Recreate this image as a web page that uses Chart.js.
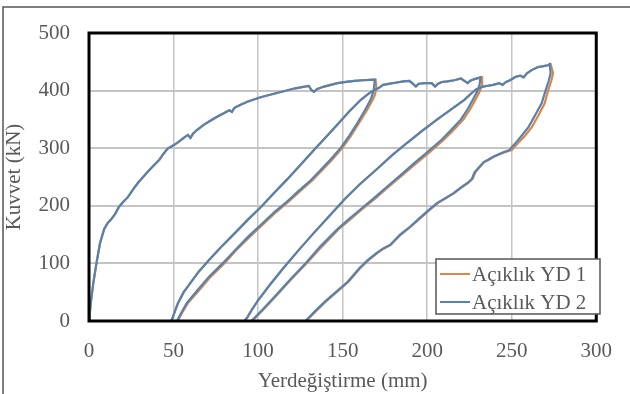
<!DOCTYPE html>
<html>
<head>
<meta charset="utf-8">
<script src="https://cdn.jsdelivr.net/npm/chart.js@4.4.1/dist/chart.umd.min.js"></script>
<style>
  html, body { margin: 0; padding: 0; background: #fff; }
  #wrap { width: 630px; height: 394px; position: relative; }
</style>
</head>
<body>
<div id="wrap"><canvas id="loadChart"></canvas></div>
<script>
// tick labels / axis ranges
const xTicks = [0, 50, 100, 150, 200, 250, 300];
const yTicks = [0, 100, 200, 300, 400, 500];
const seriesNames = ["Açıklık YD 1", "Açıklık YD 2"];

// envelope parts (both specimens sit on top of each other here)
const envelope1 = [[0,0],[0.5,15],[1.2,35],[2.5,65],[4.4,100],[6.5,135],[9,160],[11,170],[13,176],[15.5,186],[17.7,198],[20,206],[23,215],[26,228],[29,240],[32,250],[35,260],[38,269],[41.6,280],[44,290],[46.4,299],[50,305],[53,311],[56,318],[58.5,323],[60,318],[61.5,325],[64,332],[68,341],[72,348],[76,355],[80,361],[83,366],[84.5,363],[86,370],[90,376],[94,381],[98,385],[102,389],[106,392],[110,395],[114,398],[118,401],[122,404],[126,406],[130,408],[131.5,401],[133,398],[135,403],[139,407],[143,410],[147,413],[152,415],[157,417],[162,418],[166,418.5],[169,419]];
const envelope2 = [[171,404],[174,410],[178,412],[182,414],[186,416],[189.5,417],[191.5,412],[193.3,407],[195,412],[199,413],[202.7,413],[204.7,407],[206.5,412],[208.5,415],[212,416],[216,418],[220,421],[222,417],[224,413],[225.5,417],[228,420],[231.5,423]];
const envelope3 = [[232,406],[235,408],[239,410],[242.7,413],[244.5,410],[246.7,415],[249,418],[252.4,424],[255,426],[257,423],[259,430],[262,436],[265.7,441],[268,442],[271.4,444],[272.5,446]];

// reloading branches
const reload1 = [[48.7,0],[50.2,12],[52.6,31],[56,50],[59.7,65],[65,86],[71,106],[78,128],[86.4,153],[94,176],[101.7,198],[109,221],[116.9,245],[125,271],[134,300],[141,322],[147.5,343],[154,364],[160.8,384],[165,394],[168,400],[171,404]];
const reload2 = [[92,0],[94,8],[96,18],[100,36],[107,63],[115,92],[124,123],[133,153],[142,182],[151,211],[160,237],[170,263],[179,287],[188,309],[197,330],[206,350],[214,367],[222,384],[226,395],[229,402],[232,406]];

// unloading branches, YD 2
const yd2Unload1 = [[169,419],[168.5,402],[167.5,392],[166.5,384],[163,365],[159,345],[154,322],[149,301],[143,281],[137,262],[131,244],[124,226],[117,207],[110,190],[102,168],[94,146],[86.4,123],[79,100],[71,77],[64,53],[57.8,31],[54.5,14],[52,0],[48.7,0]];
const yd2Unload2 = [[231.5,423],[231,410],[229.5,398],[227,384],[224,368],[220,350],[214,331],[208.7,315],[200,293],[192.7,275],[185,255],[176.6,234],[168,212],[160.6,194],[153,175],[146.8,159],[137,130],[128.4,101],[119,72],[110,43],[103,21],[96,0],[92,0]];
const yd2Unload3 = [[272.5,446],[273,430],[272,418],[270,400],[267.7,378],[264,358],[260,337],[256,322],[252,308],[248.6,297],[245,293],[242,289],[239,285],[236,280],[233.4,276],[230,265],[228,258],[226.5,247],[224,240],[220,232],[215.6,222],[210,212],[206,205],[201,193],[196,180],[190,164],[184,150],[178,132],[174,126],[170,118],[165,106],[160,92],[153,68],[146,50],[140,35],[134,18],[128,0]];

// unloading branches, YD 1 (slightly to the right of YD 2)
const yd1Unload1 = [[169.5,419],[170,404],[169,392],[167.8,384],[164.2,365],[160,345],[155,322],[150,301],[144,281],[138,262],[132,244],[125,226],[118,207],[111,190],[103,168],[95,146],[87,123],[80,100],[72,77],[65,53],[58.5,31],[55,14],[52.5,0],[48.7,0]];
const yd1Unload2 = [[232.5,423],[232.5,410],[231,398],[228.5,384],[225.5,368],[221.5,350],[215.5,331],[210,315],[201.5,293],[194,275],[186,255],[177.6,234],[169,212],[161.5,194],[154,175],[147.5,159],[138,130],[129,101],[119.5,72],[110.5,43],[103.5,21],[96.5,0],[92,0]];
const yd1Unload3 = [[273,446],[274.5,430],[273.5,418],[271.5,400],[269.5,378],[266,358],[262,337],[258,322],[253.5,308],[250,297],[246,293],[242.5,289],[239.5,285],[236.5,280],[233.8,276],[230.5,265],[228.5,258],[227,247],[224.5,240],[220.5,232],[216,222],[210.5,212],[206.5,205],[201.5,193],[196.5,180],[190.5,164],[184.5,150],[178.5,132],[174.5,126],[170.5,118],[165.5,106],[160.5,92],[153.5,68],[146.5,50],[140.5,35],[134.5,18],[128.5,0]];

const FONT = '"Liberation Serif", "Times New Roman", serif';
const TEXT = "#595959";

function toPoints(...parts) {
  const out = [];
  parts.forEach(p => p.forEach(([x, y]) => out.push({ x: x, y: y })));
  return out;
}

const yd1 = toPoints(envelope1, yd1Unload1, reload1, envelope2, yd1Unload2, reload2, envelope3, yd1Unload3);
const yd2 = toPoints(envelope1, yd2Unload1, reload1, envelope2, yd2Unload2, reload2, envelope3, yd2Unload3);

// frame, outer border and boxed legend
const decor = {
  id: "decor",
  beforeDraw(chart) {
    const c = chart.ctx;
    c.save();
    c.fillStyle = "#fff";
    c.fillRect(0, 0, chart.width, chart.height);
    c.strokeStyle = "#555";
    c.lineWidth = 1.5;
    c.beginPath();
    c.moveTo(3, chart.height);
    c.lineTo(3, 7);
    c.lineTo(chart.width, 7);
    c.stroke();
    c.restore();
  },
  afterDatasetsDraw(chart) {
    const a = chart.chartArea;
    const c = chart.ctx;
    c.save();
    c.strokeStyle = "#000";
    c.lineWidth = 3;
    c.strokeRect(a.left, a.top, a.right - a.left, a.bottom - a.top);

    // legend
    const bx = 436, by = 259, bw = 164, bh = 55;
    c.fillStyle = "#fff";
    c.fillRect(bx, by, bw, bh);
    c.strokeStyle = "#555";
    c.lineWidth = 1.5;
    c.strokeRect(bx, by, bw, bh);
    c.font = "21px " + FONT;
    c.textBaseline = "middle";
    chart.data.datasets.forEach((ds, i) => {
      const ly = by + 15 + i * 28;
      c.strokeStyle = ds.borderColor;
      c.lineWidth = 2;
      c.beginPath();
      c.moveTo(bx + 4, ly);
      c.lineTo(bx + 34, ly);
      c.stroke();
      c.fillStyle = TEXT;
      c.fillText(ds.label, bx + 36, ly + 1);
    });
    c.restore();
  }
};

new Chart(document.getElementById("loadChart"), {
  type: "scatter",
  data: {
    datasets: [
      {
        label: seriesNames[0],
        data: yd1,
        showLine: true,
        borderColor: "#d8864a",
        borderWidth: 2.2,
        pointRadius: 0,
        order: 1,
      },
      {
        label: seriesNames[1],
        data: yd2,
        showLine: true,
        borderColor: "#5582b0",
        borderWidth: 2.2,
        pointRadius: 0,
        order: 0,
      },
    ],
  },
  options: {
    responsive: true,
    maintainAspectRatio: false,
    animation: false,
    layout: { padding: { top: 33, right: 17, left: 0, bottom: 0 } },
    plugins: {
      legend: { display: false },
      tooltip: { enabled: false },
    },
    scales: {
      x: {
        type: "linear",
        min: xTicks[0],
        max: xTicks[xTicks.length - 1],
        afterBuildTicks: (s) => { s.ticks = xTicks.map(v => ({ value: v })); },
        afterFit: (s) => { s.height = 73; },
        grid: { color: "#c4c4c4", lineWidth: 1.5, drawTicks: false },
        border: { display: false },
        ticks: { padding: 18, color: TEXT, font: { family: FONT, size: 21 }, maxRotation: 0 },
        title: { display: true, text: "Yerdeğiştirme (mm)", color: TEXT, font: { family: FONT, size: 21 }, padding: { top: 0, bottom: 0 } },
      },
      y: {
        type: "linear",
        min: yTicks[0],
        max: yTicks[yTicks.length - 1],
        afterBuildTicks: (s) => { s.ticks = yTicks.map(v => ({ value: v })); },
        afterFit: (s) => { s.width = 89; },
        grid: { color: "#c4c4c4", lineWidth: 2, drawTicks: false },
        border: { display: false },
        ticks: { padding: 19, color: TEXT, font: { family: FONT, size: 21 } },
        title: { display: true, text: "Kuvvet (kN)", color: TEXT, font: { family: FONT, size: 21 }, padding: { top: 2, bottom: 0 } },
      },
    },
  },
  plugins: [decor],
});
</script>
</body>
</html>
